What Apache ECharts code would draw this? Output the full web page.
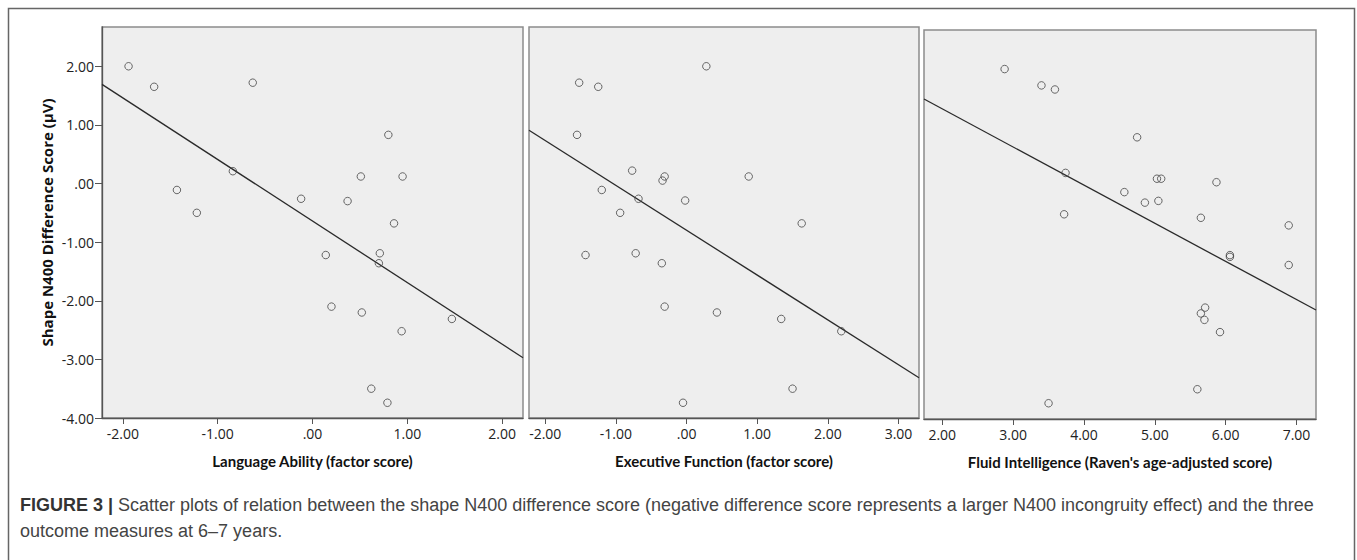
<!DOCTYPE html>
<html>
<head>
<meta charset="utf-8">
<script src="https://cdn.jsdelivr.net/npm/echarts@6/dist/echarts.min.js"></script>
<style>
  html, body { margin: 0; padding: 0; background: #fff; }
  #chart { width: 1357px; height: 560px; }
</style>
</head>
<body>
<div id="chart"></div>
<script>
// Language Ability (factor score) vs N400 difference
var langX = [-1.94, -1.67, -0.63, -0.84, -1.43, -1.22, 0.80, 0.51, 0.95, -0.12, 0.37, 0.86, 0.14, 0.71, 0.70, 0.20, 0.52, 1.47, 0.94, 0.62, 0.79];
var langY = [2.00, 1.65, 1.72, 0.21, -0.11, -0.50, 0.83, 0.12, 0.12, -0.26, -0.30, -0.68, -1.22, -1.19, -1.36, -2.10, -2.20, -2.31, -2.52, -3.50, -3.74];

// Executive Function (factor score)
var execX = [0.28, -1.52, -1.25, -1.55, -0.77, -0.31, -0.34, 0.88, -1.20, -0.68, -0.02, -0.94, 1.63, -1.43, -0.72, -0.35, -0.31, 0.43, 1.34, 2.19, 1.50, -0.05];
var execY = [2.00, 1.72, 1.65, 0.83, 0.22, 0.12, 0.05, 0.12, -0.11, -0.26, -0.29, -0.50, -0.68, -1.22, -1.19, -1.36, -2.10, -2.20, -2.31, -2.52, -3.50, -3.74];

// Fluid Intelligence (Raven's age-adjusted score)
var fluidX = [2.88, 3.40, 3.59, 4.75, 3.74, 5.03, 5.09, 5.87, 4.57, 4.86, 5.05, 3.72, 5.65, 6.89, 6.06, 6.06, 6.89, 5.71, 5.65, 5.70, 5.92, 5.60, 3.50];
var fluidY = [2.00, 1.72, 1.65, 0.83, 0.22, 0.12, 0.12, 0.06, -0.11, -0.29, -0.26, -0.49, -0.55, -0.68, -1.19, -1.22, -1.36, -2.09, -2.19, -2.30, -2.51, -3.49, -3.73];

// fit lines: [intercept, slope]
var langFit = [-0.64, -1.05];
var execFit = [-0.797, -0.765];
var fluidFit = [2.626, -0.654];

// axis ranges and tick labels
var langRange = [-2.22, 2.22];
var execRange = [-2.23, 3.29];
var fluidRange = [1.742, 7.275];
var yRange = [-4, 2.67];
var langTicks = [-2, -1, 0, 1, 2];
var execTicks = [-2, -1, 0, 1, 2, 3];
var fluidTicks = [2, 3, 4, 5, 6, 7];
var yTicks = [-4, -3, -2, -1, 0, 1, 2];

var xNames = ['Language Ability (factor score)', 'Executive Function (factor score)', "Fluid Intelligence (Raven's age-adjusted score)"];
var yName = 'Shape N400 Difference Score (\u03bcV)';

var tickFont = '"Open Sans", "Liberation Sans", sans-serif';
var titleFont = 'Lato, "Open Sans", sans-serif';

function fmt(v) {
    if (v === 0) return '.00';
    return v.toFixed(2);
}

function pairs(xs, ys) {
    return xs.map(function (x, i) { return [x, ys[i]]; });
}

function fitLine(fit, range) {
    return range.map(function (x) { return [x, fit[0] + fit[1] * x]; });
}

function makeX(idx, range, ticks, name) {
    return {
        type: 'value',
        gridIndex: idx,
        min: range[0],
        max: range[1],
        name: name,
        nameLocation: 'middle',
        nameGap: 35,
        nameTextStyle: { fontFamily: titleFont, fontWeight: 'bold', fontSize: 15, color: '#111' },
        axisLine: { show: true, onZero: false, lineStyle: { color: '#555', width: 1.3 } },
        axisTick: { show: true, length: 6, customValues: ticks, lineStyle: { color: '#555' } },
        axisLabel: { customValues: ticks, formatter: fmt, margin: 8, fontFamily: tickFont, fontSize: 14, color: '#222' },
        splitLine: { show: false }
    };
}

var grids = [
    { left: 102, top: 27, width: 421, height: 391 },
    { left: 529, top: 27, width: 390, height: 391 },
    { left: 924, top: 30, width: 392, height: 389 }
];
grids.forEach(function (g) {
    g.show = true;
    g.backgroundColor = '#eeeeee';
    g.borderColor = '#8c8c8c';
    g.borderWidth = 1.5;
});

var yAxes = [0, 1, 2].map(function (i) {
    return {
        type: 'value',
        gridIndex: i,
        min: yRange[0],
        max: yRange[1],
        show: i === 0,
        name: i === 0 ? yName : '',
        nameLocation: 'middle',
        nameRotate: 90,
        nameGap: 48,
        nameTextStyle: { fontFamily: '"Open Sans", sans-serif', fontWeight: 'bold', fontSize: 15, color: '#111' },
        axisLine: { show: true, onZero: false, lineStyle: { color: '#555', width: 1.3 } },
        axisTick: { show: true, length: 7, customValues: yTicks, lineStyle: { color: '#555' } },
        axisLabel: { customValues: yTicks, formatter: fmt, margin: 8, fontFamily: tickFont, fontSize: 14, color: '#222' },
        splitLine: { show: false }
    };
});

var pointStyle = { color: 'rgba(0,0,0,0)', borderColor: '#444', borderWidth: 1 };
var lineStyle = { color: '#2a2a2a', width: 1.3 };

var sets = [
    [langX, langY, langFit, langRange],
    [execX, execY, execFit, execRange],
    [fluidX, fluidY, fluidFit, fluidRange]
];
var series = [];
sets.forEach(function (s, i) {
    series.push({
        type: 'line', xAxisIndex: i, yAxisIndex: i,
        data: fitLine(s[2], s[3]), symbol: 'none', silent: true,
        lineStyle: lineStyle, z: 2
    });
    series.push({
        type: 'scatter', xAxisIndex: i, yAxisIndex: i,
        data: pairs(s[0], s[1]), symbol: 'circle', symbolSize: 7.5,
        itemStyle: pointStyle, z: 3
    });
});

var captionFont = '"Liberation Sans", Arial, sans-serif';
var chart = echarts.init(document.getElementById('chart'), null, { renderer: 'svg' });
chart.setOption({
    animation: false,
    title: [{
        text: '{b|FIGURE 3 |} Scatter plots of relation between the shape N400 difference score (negative difference score represents a larger N400 incongruity effect) and the three',
        left: 20, top: 496, padding: 0,
        textStyle: {
            fontFamily: captionFont, fontWeight: 'normal', fontSize: 18, color: '#444',
            rich: { b: { fontFamily: captionFont, fontWeight: 'bold', fontSize: 18, color: '#333' } }
        }
    }, {
        text: 'outcome measures at 6\u20137 years.',
        left: 20, top: 522, padding: 0,
        textStyle: { fontFamily: captionFont, fontWeight: 'normal', fontSize: 18, color: '#444' }
    }],
    graphic: [{
        type: 'rect',
        shape: { x: 8.5, y: 8.5, width: 1346, height: 620 },
        style: { fill: 'none', stroke: '#666', lineWidth: 1.5 },
        silent: true
    }],
    grid: grids,
    xAxis: [
        makeX(0, langRange, langTicks, xNames[0]),
        makeX(1, execRange, execTicks, xNames[1]),
        makeX(2, fluidRange, fluidTicks, xNames[2])
    ],
    yAxis: yAxes,
    series: series
});

window.addEventListener('resize', function () {
    chart.resize();
});
</script>
</body>
</html>
